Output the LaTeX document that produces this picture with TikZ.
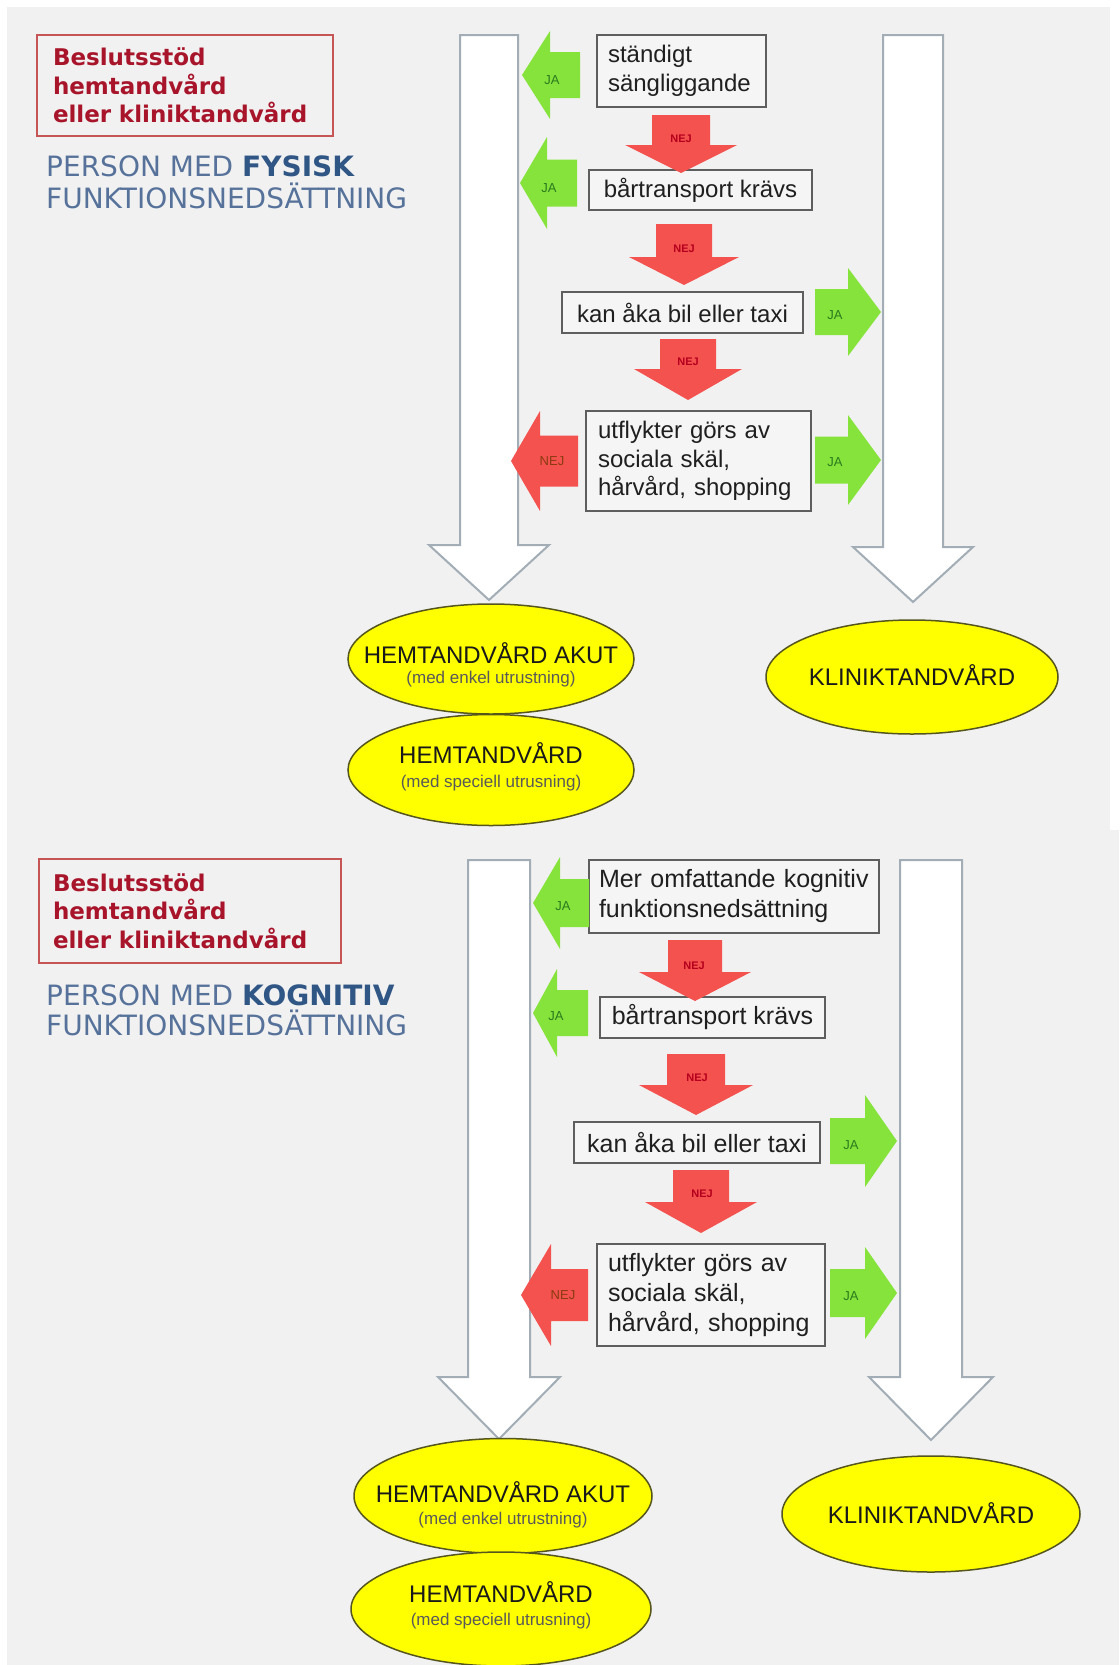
\documentclass[tikz,border=0pt]{standalone}
\usepackage{fontspec}
\setmainfont{Liberation Sans}
\newfontfamily\vfont{DejaVu Sans}
\usetikzlibrary{shapes.geometric}
\definecolor{bggray}{HTML}{F1F1F1}
\definecolor{colborder}{HTML}{A3ADB6}
\definecolor{jagreen}{HTML}{86E33C}
\definecolor{nejred}{HTML}{F4524E}
\definecolor{jatext}{HTML}{2A7A1E}
\definecolor{nejtext}{HTML}{B5001E}
\definecolor{nejtextb}{HTML}{8A3A10}
\definecolor{boxline}{HTML}{5E5E5E}
\definecolor{boxfill}{HTML}{F5F5F5}
\definecolor{titlered}{HTML}{A8152B}
\definecolor{titleline}{HTML}{C65555}
\definecolor{persblue}{HTML}{56729A}
\definecolor{persbold}{HTML}{2F5685}
\definecolor{ellfill}{HTML}{FFFF00}
\definecolor{ellline}{HTML}{55551E}
% #1 style, #2 cx, #3 top, #4 body half, #5 head half, #6 head start, #7 tip
\newcommand{\ArrDown}[7]{\path[#1] ({#2-#4},#3) -- ({#2+#4},#3) -- ({#2+#4},#6) -- ({#2+#5},#6) -- (#2,#7) -- ({#2-#5},#6) -- ({#2-#4},#6) -- cycle;}
% #1 style, #2 tip x, #3 head base x, #4 right x, #5 cy, #6 body half, #7 head half
\newcommand{\ArrLeft}[7]{\path[#1] (#2,#5) -- (#3,{#5-#7}) -- (#3,{#5-#6}) -- (#4,{#5-#6}) -- (#4,{#5+#6}) -- (#3,{#5+#6}) -- (#3,{#5+#7}) -- cycle;}
% #1 style, #2 left x, #3 head base x, #4 tip x, #5 cy, #6 body half, #7 head half
\newcommand{\ArrRight}[7]{\path[#1] (#2,{#5-#6}) -- (#3,{#5-#6}) -- (#3,{#5-#7}) -- (#4,#5) -- (#3,{#5+#7}) -- (#3,{#5+#6}) -- (#2,{#5+#6}) -- cycle;}
\begin{document}
\begin{tikzpicture}[x=1pt,y=-1pt,
  column/.style={fill=white,draw=colborder,line width=2pt,line join=miter},
  jafill/.style={fill=jagreen},
  nejfill/.style={fill=nejred},
  jalabel/.style={font=\fontsize{13}{13}\selectfont,text=jatext,inner sep=0pt},
  nejlabel/.style={font=\fontsize{11}{11}\selectfont\bfseries,text=nejtext,inner sep=0pt},
  nejlabelb/.style={font=\fontsize{13}{13}\selectfont,text=nejtextb,inner sep=0pt},
  qbox/.style={draw=boxline,line width=1.5pt,fill=boxfill,inner sep=0pt,text=black!88},
  qfontA/.style={font=\fontsize{24}{28.5}\selectfont},
  qfontB/.style={font=\fontsize{25}{30}\selectfont},
  titlebox/.style={draw=titleline,line width=2pt,inner sep=0pt,align=left,
    font=\vfont\bfseries\fontsize{23}{28.5}\selectfont,text=titlered},
  perstext/.style={anchor=base west,inner sep=0pt,text=persblue,font=\vfont\fontsize{28}{28}\selectfont},
  ell/.style={ellipse,draw=ellline,line width=1.5pt,fill=ellfill,inner sep=0pt},
  elltext/.style={anchor=base,inner sep=0pt,text=black!90,font=\fontsize{24}{24}\selectfont},
  ellsub/.style={anchor=base,inner sep=0pt,text=black!65,font=\fontsize{17}{17}\selectfont}
]
\useasboundingbox (0,0) rectangle (1119,1665);
\fill[white] (0,0) rectangle (1119,1665);
\fill[bggray] (7,7) rectangle (1110,830);
\fill[bggray] (7,830) rectangle (1119,1665);

% ================= TOP: FYSISK =================
\node[titlebox,minimum width=296,minimum height=101,text width=264] (t1) at (185,85.5)
  {Beslutsstöd\\hemtandvård\\eller kliniktandvård};
\node[perstext] (p1a) at (46,176) {PERSON MED {\bfseries\color{persbold}FYSISK}};
\node[perstext] (p1b) at (46,208) {FUNKTIONSNEDSÄTTNING};

% big columns
\ArrDown{column}{489}{35}{29}{60}{545}{600}
\ArrDown{column}{913}{35}{30}{60}{547}{602}

% questions
\node[qbox,qfontA,minimum width=169,minimum height=72,text width=147,align=left] (q1) at (681.5,71) {ständigt\\sängliggande};
\node[qbox,qfontA,minimum width=223,minimum height=40,align=center] (q2) at (700.5,190) {bårtransport krävs};
\node[qbox,qfontA,minimum width=241,minimum height=41,align=center] (q3) at (682.5,312.5) {kan åka bil eller taxi};
\node[qbox,qfontA,minimum width=225,minimum height=100,text width=201,align=left] (q4) at (698.5,461) {utflykter görs av\\sociala skäl,\\hårvård, shopping};

% block arrows
\ArrLeft{jafill}{522}{550}{580}{75}{23}{44}
\node[jalabel] (ja1) at (552,80) {JA};
\ArrDown{nejfill}{681}{115}{29}{56}{145}{173}
\node[nejlabel] (nej1) at (681,139) {NEJ};
\ArrLeft{jafill}{520}{547}{577}{183}{23.5}{46}
\node[jalabel] (ja2) at (549,188) {JA};
\ArrDown{nejfill}{684}{224}{28}{55}{257}{285}
\node[nejlabel] (nej2) at (684,249) {NEJ};
\ArrRight{jafill}{815}{848}{881}{312}{23}{44}
\node[jalabel] (ja3) at (835,315) {JA};
\ArrDown{nejfill}{688}{339}{28}{54}{369}{400}
\node[nejlabel] (nej3) at (688,362) {NEJ};
\ArrLeft{nejfill}{511}{540}{578}{461}{25.5}{50}
\node[nejlabelb] (nej4) at (552,461) {NEJ};
\ArrRight{jafill}{815}{848}{881}{460}{23.5}{45}
\node[jalabel] (ja4) at (835,462) {JA};

% outcomes
\node[ell,minimum width=286,minimum height=110] (e1) at (491,659) {};
\node[elltext] (e1a) at (491,663) {HEMTANDVÅRD AKUT};
\node[ellsub] (e1b) at (491,683) {(med enkel utrustning)};
\node[ell,minimum width=286,minimum height=111] (e2) at (491,770) {};
\node[elltext] (e2a) at (491,763) {HEMTANDVÅRD};
\node[ellsub] (e2b) at (491,787) {(med speciell utrusning)};
\node[ell,minimum width=292,minimum height=114] (e3) at (912,677) {};
\node[elltext] (e3a) at (912,685) {KLINIKTANDVÅRD};

% ================= BOTTOM: KOGNITIV =================
\node[titlebox,minimum width=302,minimum height=104,text width=274] (t2) at (190,911)
  {Beslutsstöd\\hemtandvård\\eller kliniktandvård};
\node[perstext] (p2a) at (46,1005) {PERSON MED {\bfseries\color{persbold}KOGNITIV}};
\node[perstext] (p2b) at (46,1035) {FUNKTIONSNEDSÄTTNING};

\ArrDown{column}{499}{860}{31}{61}{1377}{1439}
\ArrDown{column}{931}{860}{31}{62}{1377}{1440}

\node[qbox,qfontB,minimum width=290,minimum height=73,text width=270,align=left] (b1) at (734,896.5) {Mer omfattande kognitiv\\funktionsnedsättning};
\node[qbox,qfontB,minimum width=225,minimum height=41,align=center] (b2) at (712.5,1017.5) {bårtransport krävs};
\node[qbox,qfontB,minimum width=246,minimum height=41,align=center] (b3) at (697,1142.5) {kan åka bil eller taxi};
\node[qbox,qfontB,minimum width=228,minimum height=102,text width=206,align=left] (b4) at (711,1295) {utflykter görs av\\sociala skäl,\\hårvård, shopping};

\ArrLeft{jafill}{533}{560}{589}{903}{24}{46}
\node[jalabel] (ja5) at (563,906) {JA};
\ArrDown{nejfill}{695}{940}{27}{56}{972}{1001}
\node[nejlabel] (nej5) at (694,966) {NEJ};
\ArrLeft{jafill}{533}{557}{588}{1013}{23}{44}
\node[jalabel] (ja6) at (556,1016) {JA};
\ArrDown{nejfill}{696}{1054}{29}{57}{1085}{1115}
\node[nejlabel] (nej6) at (697,1078) {NEJ};
\ArrRight{jafill}{830}{865}{897}{1141}{23}{46}
\node[jalabel] (ja7) at (851,1145) {JA};
\ArrDown{nejfill}{701}{1170}{28}{56}{1202}{1233}
\node[nejlabel] (nej7) at (702,1194) {NEJ};
\ArrLeft{nejfill}{521}{551}{588}{1295}{26}{51}
\node[nejlabelb] (nej8) at (563,1295) {NEJ};
\ArrRight{jafill}{830}{865}{897}{1293}{24}{46}
\node[jalabel] (ja8) at (851,1296) {JA};

\node[ell,minimum width=298,minimum height=115] (e4) at (503,1496) {};
\node[elltext] (e4a) at (503,1502) {HEMTANDVÅRD AKUT};
\node[ellsub] (e4b) at (503,1524) {(med enkel utrustning)};
\node[ell,minimum width=300,minimum height=114] (e5) at (501,1609) {};
\node[elltext] (e5a) at (501,1602) {HEMTANDVÅRD};
\node[ellsub] (e5b) at (501,1625) {(med speciell utrusning)};
\node[ell,minimum width=298,minimum height=116] (e6) at (931,1514) {};
\node[elltext] (e6a) at (931,1523) {KLINIKTANDVÅRD};
\end{tikzpicture}
\end{document}
